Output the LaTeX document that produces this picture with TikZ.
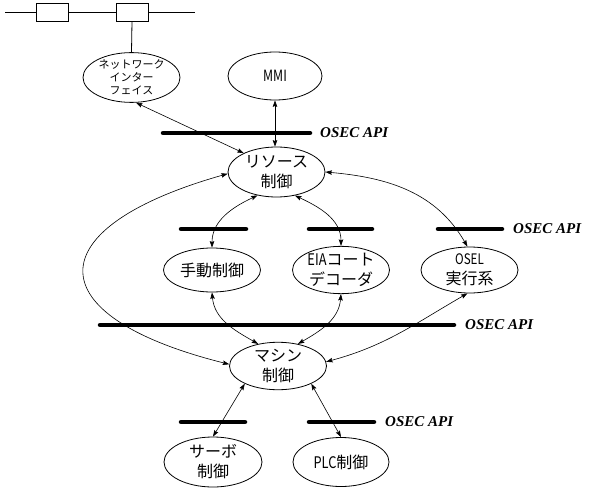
\documentclass[tikz,border=0pt]{standalone}
\usepackage{fontspec}
\usetikzlibrary{shapes.geometric,arrows.meta}
\newfontfamily\jp{Noto Sans CJK JP}
\newfontfamily\jplat[FakeStretch=0.8]{Noto Sans CJK JP}
\newfontfamily\apifont{Liberation Serif}
\tikzset{
  el/.style={ellipse,draw,line width=0.8pt,inner sep=0pt,align=center,
    font=\jp\fontsize{16}{20}\selectfont},
  conn/.style={line width=0.6pt,{Stealth[length=6.5pt,width=4.5pt,inset=1pt]}-{Stealth[length=6.5pt,width=4.5pt,inset=1pt]}},
  api/.style={line width=4.5pt,line cap=round},
  apilabel/.style={anchor=west,inner sep=0pt,font=\apifont\bfseries\itshape\fontsize{15}{15}\selectfont},
  netbox/.style={draw,line width=0.8pt,minimum width=32pt,minimum height=18pt,inner sep=0pt},
  net/.style={line width=0.8pt}
}
\begin{document}
\begin{tikzpicture}[x=1pt,y=-1pt]
\useasboundingbox (0,0) rectangle (599,489);
% network
\coordinate (nl) at (5,12);
\coordinate (nr) at (195,12);
\node[netbox] (b1) at (52,12) {};
\node[netbox] (b2) at (132,12) {};
\draw[net] (nl) -- (b1.west);
\draw[net] (b1.east) -- (b2.west);
\draw[net] (b2.east) -- (nr);
% nodes
\node[el,minimum width=97pt,minimum height=45pt,font=\jp\fontsize{11}{13}\selectfont] (ni) at (131.5,77.5) {ネットワーク\\インター\\フェイス};
\draw[net] (b2.south) -- (ni.north);
\node[el,minimum width=94pt,minimum height=48pt] (mmi) at (275,76) {\jplat\fontsize{15.5}{18}\selectfont MMI};
\node[el,minimum width=97pt,minimum height=50pt] (res) at (276.5,172) {リソース\\制御};
\node[el,minimum width=97pt,minimum height=44pt] (man) at (212,270) {手動制御};
\node[el,minimum width=97pt,minimum height=44pt] (eia) at (341,270) {{\jplat EIA}コート\\デコーダ};
\node[el,minimum width=97pt,minimum height=46pt] (osel) at (469.5,270) {{\jplat\fontsize{14.5}{16}\selectfont OSEL}\\実行系};
\node[el,minimum width=97pt,minimum height=47pt] (mach) at (278,366) {マシン\\制御};
\node[el,minimum width=98pt,minimum height=50pt] (servo) at (213,462) {サーボ\\制御};
\node[el,minimum width=96pt,minimum height=49pt] (plc) at (341,462) {{\jplat PLC}制御};
% API bars
\draw[api] (163,133) -- (310,133);
\node[apilabel] (api1) at (320,133) {OSEC API};
\draw[api] (181,229) -- (246,229);
\draw[api] (309,229) -- (372,229);
\draw[api] (438,229) -- (502,229);
\node[apilabel] (api2) at (513,229) {OSEC API};
\draw[api] (100,325) -- (454,325);
\node[apilabel] (api3) at (465,325) {OSEC API};
\draw[api] (181,422) -- (245,422);
\draw[api] (309,422) -- (374,422);
\node[apilabel] (api4) at (385,422) {OSEC API};
% connectors
\draw[conn] (ni.-80) -- (res.150);
\draw[conn] (mmi.south) -- (mmi.south |- res.north);
\draw[conn] (res.231) to[out=205,in=90] (man.north);
\draw[conn] (res.308) to[out=-25,in=90] (eia.north);
\draw[conn] (res.east) to[out=-5,in=120] (osel.95);
\draw[conn] (res.182) .. controls (36,228) and (36,316) .. (mach.178);
\draw[conn] (man.south) to[out=-85,in=150] (mach.132);
\draw[conn] (eia.south) to[out=-95,in=30] (mach.48);
\draw[conn] (osel.-95) to[out=210,in=15] (mach.5);
\draw[conn] (mach.208) -- (servo.north);
\draw[conn] (mach.-28) -- (plc.north);
\end{tikzpicture}
\end{document}
